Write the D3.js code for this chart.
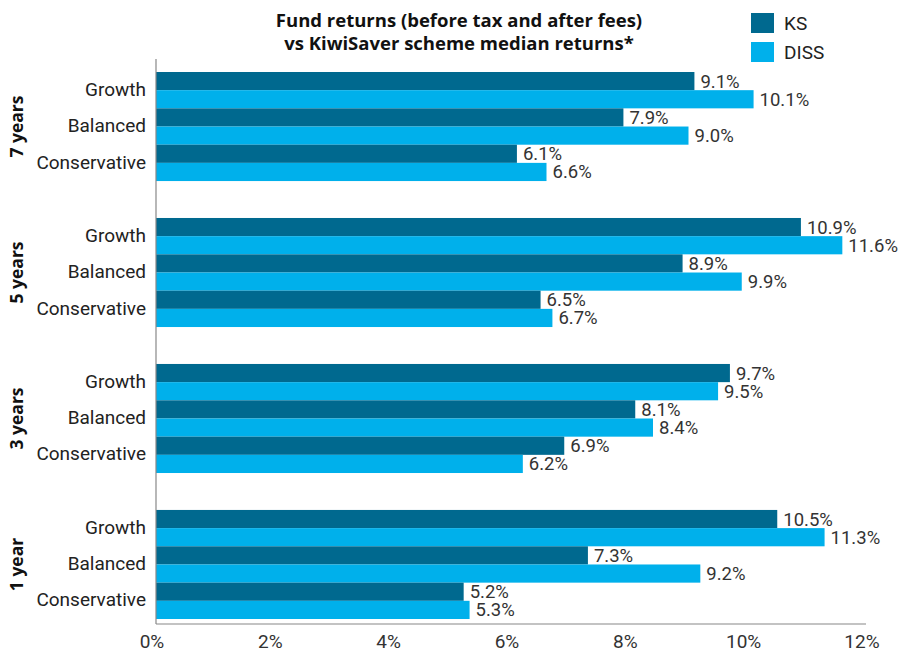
<!doctype html>
<html>
<head>
<meta charset="utf-8">
<script src="https://cdn.jsdelivr.net/npm/d3@7"></script>
<style>
  body { margin: 0; background: #fff; }
  svg text { font-family: Roboto, "Open Sans", sans-serif; }
  svg text.bold { font-family: "Open Sans", Lato, sans-serif; font-weight: bold; }
</style>
</head>
<body>
<svg id="chart" width="904" height="655"></svg>
<script>
// data
var periods = ["7 years", "5 years", "3 years", "1 year"];
var funds = ["Growth", "Balanced", "Conservative"];
var seriesNames = ["KS", "DISS"];
var ksValues = [
  [9.1, 7.9, 6.1],
  [10.9, 8.9, 6.5],
  [9.7, 8.1, 6.9],
  [10.5, 7.3, 5.2]
];
var dissValues = [
  [10.1, 9.0, 6.6],
  [11.6, 9.9, 6.7],
  [9.5, 8.4, 6.2],
  [11.3, 9.2, 5.3]
];
var xTicks = [0, 2, 4, 6, 8, 10, 12];

var colors = { KS: "#00698f", DISS: "#00b0eb" };

var svg = d3.select("#chart");

// scales
var x = d3.scaleLinear().domain([0, 12]).range([156, 866]);
var yGroup = d3.scaleBand().domain(periods).range([72, 619]).paddingInner(0.253);
var yFund = d3.scaleBand().domain(funds).range([0, yGroup.bandwidth()]);
var ySeries = d3.scaleBand().domain(seriesNames).range([0, yFund.bandwidth()]);

// flatten rows for drawing
var rows = [];
periods.forEach(function(p, i) {
  funds.forEach(function(f, j) {
    rows.push({ period: p, fund: f, series: "KS", value: ksValues[i][j] });
    rows.push({ period: p, fund: f, series: "DISS", value: dissValues[i][j] });
  });
});

function barY(d) { return yGroup(d.period) + yFund(d.fund) + ySeries(d.series); }

// bars
svg.selectAll(".bar")
  .data(rows)
  .enter().append("rect")
  .attr("class", "bar")
  .attr("x", x(0))
  .attr("y", barY)
  .attr("width", function(d) { return x(d.value) - x(0); })
  .attr("height", ySeries.bandwidth())
  .attr("fill", function(d) { return colors[d.series]; });

// value labels
svg.selectAll(".val")
  .data(rows)
  .enter().append("text")
  .attr("class", "val")
  .attr("x", function(d) { return x(d.value) + 6; })
  .attr("y", function(d) { return barY(d) + ySeries.bandwidth() / 2; })
  .attr("dy", "0.35em")
  .attr("font-size", "18.5px")
  .attr("fill", "#333")
  .text(function(d) { return d3.format(".1f")(d.value) + "%"; });

// axes lines
svg.append("line")
  .attr("x1", x(0)).attr("x2", x(0))
  .attr("y1", 59).attr("y2", 624)
  .attr("stroke", "#888").attr("stroke-width", 1.2);
svg.append("line")
  .attr("x1", x(0)).attr("x2", x(12))
  .attr("y1", 624).attr("y2", 624)
  .attr("stroke", "#888").attr("stroke-width", 1.2);

// x tick labels
svg.selectAll(".xtick")
  .data(xTicks)
  .enter().append("text")
  .attr("class", "xtick")
  .attr("x", function(d) { return x(d) - 4; })
  .attr("y", 641)
  .attr("dy", "0.35em")
  .attr("text-anchor", "middle")
  .attr("font-size", "19px")
  .attr("fill", "#333")
  .text(function(d) { return d + "%"; });

// fund labels
periods.forEach(function(p) {
  svg.selectAll(null)
    .data(funds)
    .enter().append("text")
    .attr("x", 146)
    .attr("y", function(f) { return yGroup(p) + yFund(f) + yFund.bandwidth() / 2 - 1; })
    .attr("dy", "0.35em")
    .attr("text-anchor", "end")
    .attr("font-size", "19px")
    .attr("fill", "#222")
    .text(function(f) { return f; });
});

// period labels (rotated)
svg.selectAll(".period")
  .data(periods)
  .enter().append("text")
  .attr("class", "period bold")
  .attr("transform", function(p) {
    return "translate(17," + (yGroup(p) + yGroup.bandwidth() / 2) + ") rotate(-90)";
  })
  .attr("dy", "0.35em")
  .attr("text-anchor", "middle")
  .attr("font-size", "17.5px")
  .attr("fill", "#111")
  .text(function(p) { return p; });

// title
var title = svg.append("text")
  .attr("class", "bold")
  .attr("x", 459)
  .attr("text-anchor", "middle")
  .attr("font-size", "18.5px")
  .attr("fill", "#111");
title.append("tspan").attr("x", 459).attr("y", 27).text("Fund returns (before tax and after fees)");
title.append("tspan").attr("x", 459).attr("y", 50).text("vs KiwiSaver scheme median returns*");

// legend
var legend = svg.selectAll(".legend")
  .data(seriesNames)
  .enter().append("g")
  .attr("class", "legend")
  .attr("transform", function(d, i) { return "translate(751," + (13 + i * 29) + ")"; });
legend.append("rect")
  .attr("width", 23).attr("height", 20)
  .attr("fill", function(d) { return colors[d]; });
legend.append("text")
  .attr("x", 33).attr("y", 10)
  .attr("dy", "0.35em")
  .attr("font-size", "19px")
  .attr("fill", "#222")
  .text(function(d) { return d; });
</script>
</body>
</html>
